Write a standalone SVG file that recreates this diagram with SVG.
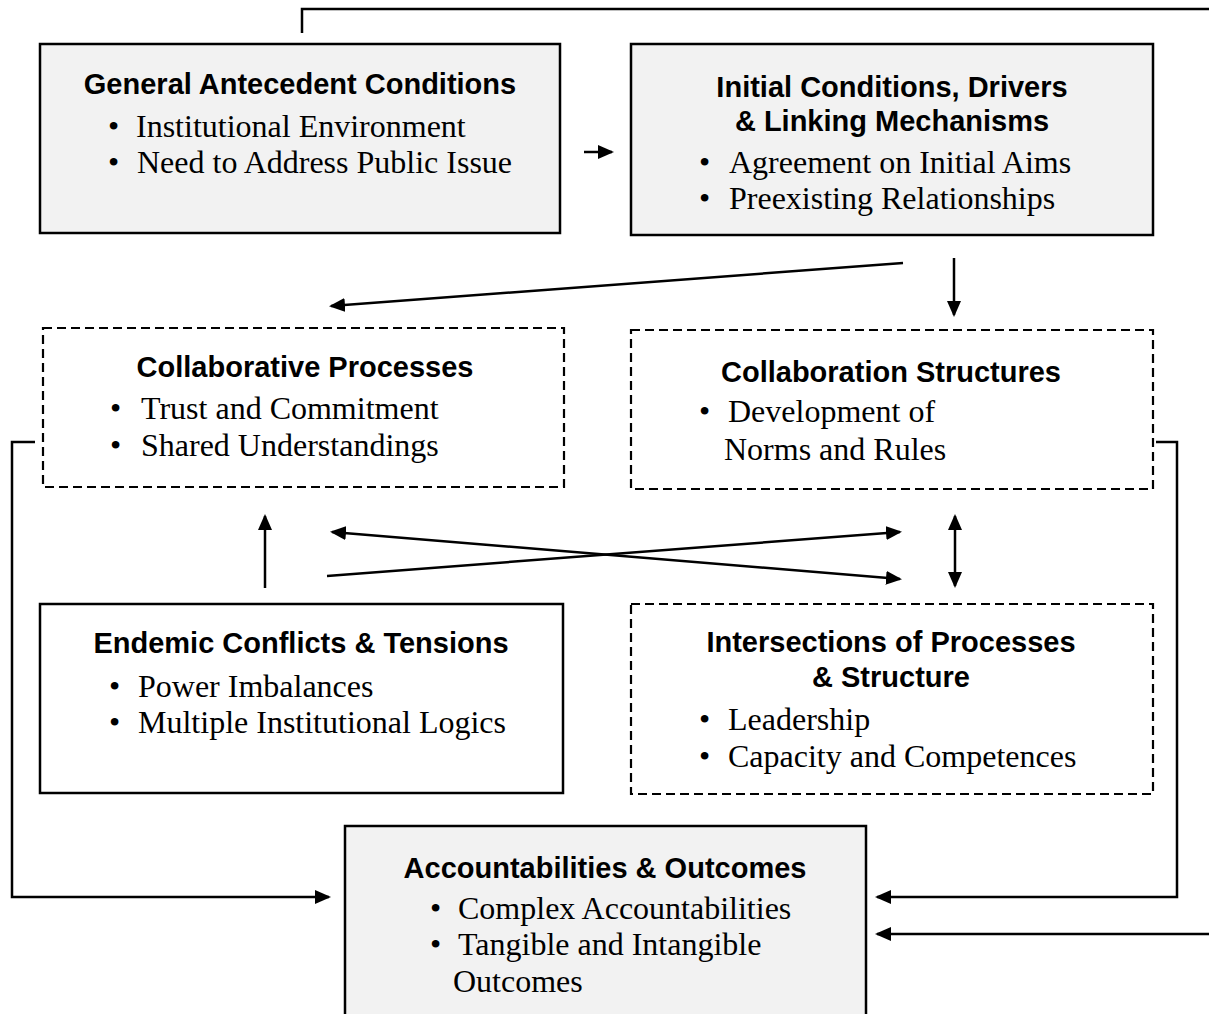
<svg xmlns="http://www.w3.org/2000/svg" width="1209" height="1014" viewBox="0 0 1209 1014">
  <style>
    .box { fill: #f2f2f2; stroke: #000; stroke-width: 2.5; }
    .plain { fill: #fff; stroke: #000; stroke-width: 2.5; }
    .dash { fill: #fff; stroke: #000; stroke-width: 2.2; stroke-dasharray: 9 5; }
    .head { font-family: "Liberation Sans", Arial, sans-serif; font-weight: bold; font-size: 29px; fill: #000; text-anchor: middle; }
    .item { font-family: "Liberation Serif", "Times New Roman", serif; font-size: 32px; fill: #000; }
    .wire { fill: none; stroke: #000; stroke-width: 2.5; }
  </style>
  <defs>
    <marker id="ah" markerUnits="userSpaceOnUse" markerWidth="16" markerHeight="14" refX="14" refY="7" orient="auto-start-reverse">
      <path d="M0,0 L16,7 L0,14 Z" fill="#000"/>
    </marker>
  </defs>

  <rect width="1209" height="1014" fill="#fff"/>

  <!-- General Antecedent Conditions -->
  <g id="antecedent">
    <rect class="box" x="40" y="44" width="520" height="189"/>
    <text class="head" x="300" y="94">General Antecedent Conditions</text>
    <text class="item" y="137"><tspan x="108">•</tspan><tspan x="136">Institutional Environment</tspan></text>
    <text class="item" y="173"><tspan x="108">•</tspan><tspan x="137">Need to Address Public Issue</tspan></text>
  </g>

  <!-- Initial Conditions, Drivers & Linking Mechanisms -->
  <g id="initial">
    <rect class="box" x="631" y="44" width="522" height="191"/>
    <text class="head" x="892" y="97">Initial Conditions, Drivers</text>
    <text class="head" x="892" y="131">&amp; Linking Mechanisms</text>
    <text class="item" y="173"><tspan x="699">•</tspan><tspan x="729">Agreement on Initial Aims</tspan></text>
    <text class="item" y="209"><tspan x="699">•</tspan><tspan x="729">Preexisting Relationships</tspan></text>
  </g>

  <!-- Collaborative Processes -->
  <g id="processes">
    <rect class="dash" x="43" y="328" width="521" height="159"/>
    <text class="head" x="305" y="377">Collaborative Processes</text>
    <text class="item" y="419"><tspan x="110">•</tspan><tspan x="141">Trust and Commitment</tspan></text>
    <text class="item" y="456"><tspan x="110">•</tspan><tspan x="141">Shared Understandings</tspan></text>
  </g>

  <!-- Collaboration Structures -->
  <g id="structures">
    <rect class="dash" x="631" y="330" width="522" height="159"/>
    <text class="head" x="891" y="382">Collaboration Structures</text>
    <text class="item" y="422"><tspan x="699">•</tspan><tspan x="728">Development of</tspan></text>
    <text class="item" x="724" y="460">Norms and Rules</text>
  </g>

  <!-- Endemic Conflicts & Tensions -->
  <g id="conflicts">
    <rect class="plain" x="40" y="604" width="523" height="189"/>
    <text class="head" x="301" y="653">Endemic Conflicts &amp; Tensions</text>
    <text class="item" y="697"><tspan x="109">•</tspan><tspan x="138">Power Imbalances</tspan></text>
    <text class="item" y="733"><tspan x="109">•</tspan><tspan x="138">Multiple Institutional Logics</tspan></text>
  </g>

  <!-- Intersections of Processes & Structure -->
  <g id="intersections">
    <rect class="dash" x="631" y="604" width="522" height="190"/>
    <text class="head" x="891" y="652">Intersections of Processes</text>
    <text class="head" x="891" y="687">&amp; Structure</text>
    <text class="item" y="730"><tspan x="699">•</tspan><tspan x="728">Leadership</tspan></text>
    <text class="item" y="767"><tspan x="699">•</tspan><tspan x="728">Capacity and Competences</tspan></text>
  </g>

  <!-- Accountabilities & Outcomes -->
  <g id="outcomes">
    <rect class="box" x="345" y="826" width="521" height="200"/>
    <text class="head" x="605" y="878">Accountabilities &amp; Outcomes</text>
    <text class="item" y="919"><tspan x="430">•</tspan><tspan x="458">Complex Accountabilities</tspan></text>
    <text class="item" y="955"><tspan x="430">•</tspan><tspan x="458">Tangible and Intangible</tspan></text>
    <text class="item" x="453" y="992">Outcomes</text>
  </g>

  <!-- connectors -->
  <g id="connectors">
    <polyline class="wire" points="302,33 302,9 1209,9"/>
    <line class="wire" x1="584" y1="152" x2="612" y2="152" marker-end="url(#ah)"/>
    <line class="wire" x1="903" y1="263" x2="331" y2="306" marker-end="url(#ah)"/>
    <line class="wire" x1="954" y1="258" x2="954" y2="315" marker-end="url(#ah)"/>
    <line class="wire" x1="265" y1="588" x2="265" y2="516" marker-end="url(#ah)"/>
    <line class="wire" x1="332" y1="532" x2="900" y2="579" marker-start="url(#ah)" marker-end="url(#ah)"/>
    <line class="wire" x1="327" y1="576" x2="900" y2="532" marker-end="url(#ah)"/>
    <line class="wire" x1="955" y1="516" x2="955" y2="586" marker-start="url(#ah)" marker-end="url(#ah)"/>
    <polyline class="wire" points="35,442 12,442 12,897 329,897" marker-end="url(#ah)"/>
    <polyline class="wire" points="1156,442 1177,442 1177,897 877,897" marker-end="url(#ah)"/>
    <line class="wire" x1="1209" y1="934" x2="877" y2="934" marker-end="url(#ah)"/>
  </g>
</svg>
